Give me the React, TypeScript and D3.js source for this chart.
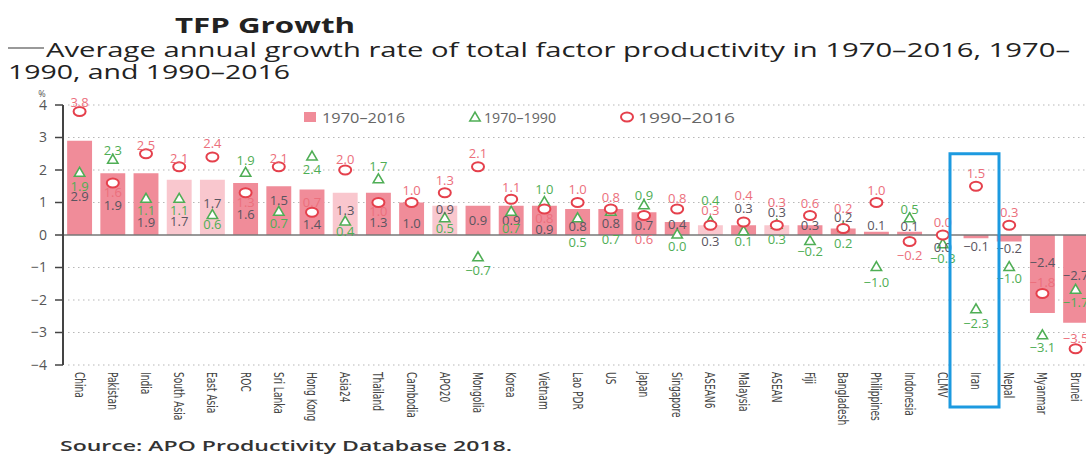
import * as d3 from "d3";

const CATEGORIES = [
  "China", "Pakistan", "India", "South Asia", "East Asia", "ROC", "Sri Lanka", "Hong Kong",
  "Asia24", "Thailand", "Cambodia", "APO20", "Mongolia", "Korea", "Vietnam", "Lao PDR",
  "US", "Japan", "Singapore", "ASEAN6", "Malaysia", "ASEAN", "Fiji", "Bangladesh",
  "Philippines", "Indonesia", "CLMV", "Iran", "Nepal", "Myanmar", "Brunei",
];

const TFP_1970_2016 = [
  2.9, 1.9, 1.9, 1.7, 1.7, 1.6, 1.5, 1.4, 1.3, 1.3, 1.0, 0.9, 0.9, 0.9, 0.9, 0.8,
  0.8, 0.7, 0.4, 0.3, 0.3, 0.3, 0.3, 0.2, 0.1, 0.1, 0.0, -0.1, -0.2, -2.4, -2.7,
];

const TFP_1970_1990: (number | null)[] = [
  1.9, 2.3, 1.1, 1.1, 0.6, 1.9, 0.7, 2.4, 0.4, 1.7, null, 0.5, -0.7, 0.7, 1.0, 0.5,
  0.7, 0.9, 0.0, 0.4, 0.1, 0.3, -0.2, 0.2, -1.0, 0.5, -0.3, -2.3, -1.0, -3.1, -1.7,
];

const TFP_1990_2016 = [
  3.8, 1.6, 2.5, 2.1, 2.4, 1.3, 2.1, 0.7, 2.0, 1.0, 1.0, 1.3, 2.1, 1.1, 0.8, 1.0,
  0.8, 0.6, 0.8, 0.3, 0.4, 0.3, 0.6, 0.2, 1.0, -0.2, 0.0, 1.5, 0.3, -1.8, -3.5,
];

// regional aggregates drawn with the lighter bar colour
const AGGREGATES = ["South Asia", "East Asia", "Asia24", "APO20", "ASEAN6", "ASEAN", "CLMV"];
const HIGHLIGHT = "Iran";

const Y_TICKS = [4, 3, 2, 1, 0, -1, -2, -3, -4];

// where each value label sits, in % units (hand placed in the original to avoid overlaps)
const LABEL_AT_BAR = [
  1.2, 0.9, 0.4, 0.43, 0.98, 0.62, 1.07, 0.34, 0.77, 0.4, 0.37, 0.8, 0.46, 0.45, 0.18, 0.25,
  0.35, 0.3, 0.34, -0.2, 0.83, 0.68, 0.3, 0.55, 0.3, 0.25, -0.37, -0.34, -0.4, -0.83, -1.23,
];
const LABEL_AT_TRI = [
  1.5, 2.6, 0.77, 0.77, 0.34, 2.3, 0.37, 2.03, 0.12, 2.1, 0, 0.2, -1.1, 0.2, 1.41, -0.22,
  -0.15, 1.23, -0.36, 1.07, -0.2, -0.15, -0.52, -0.25, -1.45, 0.8, -0.71, -2.71, -1.33, -3.47, -2.08,
];
const LABEL_AT_CIRCLE = [
  4.09, 1.3, 2.77, 2.37, 2.83, 1.0, 2.37, 1.0, 2.33, 0.74, 1.38, 1.68, 2.5, 1.45, 0.5, 1.41,
  1.17, -0.15, 1.13, 0.77, 1.23, 1.0, 0.98, 0.83, 1.38, -0.62, 0.4, 1.9, 0.7, -1.45, -3.17,
];

const WIDTH = 1086;
const HEIGHT = 459;
const AXIS_X = 63;
const BAR_DARK = "#f08c99";
const BAR_LIGHT = "#f9c7ce";
const RED = "#e5404c";
const GREEN = "#4fae55";
const LABEL_FONT = "'Open Sans', 'DejaVu Sans', sans-serif";
const NARROW_FONT = "'Liberation Sans Narrow', 'DejaVu Sans Condensed', 'Roboto', sans-serif";

function fmt(v: number) {
  return v < 0 ? `\u2212${Math.abs(v).toFixed(1)}` : v.toFixed(1);
}

export default function App() {
  const x = d3.scaleBand<string>().domain(CATEGORIES).range([AXIS_X, AXIS_X + 33.2 * CATEGORIES.length]).padding(0);
  const y = d3.scaleLinear().domain([-4, 4]).range([365, 105]);
  const step = x.bandwidth();
  const barW = step * 0.75;
  const cx = (c: string) => (x(c) ?? 0) + step / 2;
  const triangle = d3.symbol().type(d3.symbolTriangle).size(46)() ?? "";

  const irX = cx(HIGHLIGHT);

  return (
    <svg width={WIDTH} height={HEIGHT} style={{ position: "absolute", left: 0, top: 0, background: "#fff" }}>
      {/* titles */}
      <text x={175} y={33} fontFamily={LABEL_FONT} fontWeight={700} fontSize={22} fill="#222" textLength={180} lengthAdjust="spacingAndGlyphs">
        TFP Growth
      </text>
      <line x1={8} x2={44} y1={48} y2={48} stroke="#777" strokeWidth={1.3} />
      <text x={46} y={57} fontFamily={LABEL_FONT} fontSize={20} fill="#222" textLength={1024} lengthAdjust="spacingAndGlyphs">
        Average annual growth rate of total factor productivity in 1970–2016, 1970–
      </text>
      <text x={8} y={79} fontFamily={LABEL_FONT} fontSize={20} fill="#222" textLength={282} lengthAdjust="spacingAndGlyphs">
        1990, and 1990–2016
      </text>

      {/* grid */}
      {Y_TICKS.filter((t) => t !== 0).map((t) => (
        <line key={t} x1={AXIS_X + 5} x2={WIDTH} y1={y(t)} y2={y(t)} stroke="#b8b8b8" strokeWidth={1.2} strokeDasharray="1.5 3.5" />
      ))}

      {/* legend */}
      <g fontFamily={LABEL_FONT} fontSize={14.5} fill="#666">
        <rect x={304} y={112} width={12} height={10} fill={BAR_DARK} />
        <text x={322} y={122.5} textLength={83} lengthAdjust="spacingAndGlyphs">1970–2016</text>
        <path d={triangle} transform={`translate(475 118)`} fill="#fff" stroke={GREEN} strokeWidth={1.6} />
        <text x={484} y={122.5} textLength={72} lengthAdjust="spacingAndGlyphs">1970–1990</text>
        <ellipse cx={627} cy={117} rx={6} ry={4.5} fill="#fff" stroke={RED} strokeWidth={2} />
        <text x={638} y={122.5} textLength={97} lengthAdjust="spacingAndGlyphs">1990–2016</text>
      </g>

      {/* bars */}
      {CATEGORIES.map((c, i) => {
        const v = TFP_1970_2016[i];
        return (
          <rect
            key={c}
            x={cx(c) - barW / 2}
            y={Math.min(y(v), y(0))}
            width={barW}
            height={Math.abs(y(v) - y(0))}
            fill={AGGREGATES.includes(c) ? BAR_LIGHT : BAR_DARK}
          />
        );
      })}

      {/* zero line and y axis */}
      <line x1={AXIS_X} x2={WIDTH} y1={y(0)} y2={y(0)} stroke="#777" strokeWidth={1.5} />
      <line x1={AXIS_X} x2={AXIS_X} y1={y(4)} y2={y(-4)} stroke="#444" strokeWidth={2} />
      {Y_TICKS.map((t) => (
        <g key={t}>
          <line x1={AXIS_X - 8} x2={AXIS_X} y1={y(t)} y2={y(t)} stroke="#444" strokeWidth={1.5} />
          <text x={47} y={y(t)} dy="0.35em" textAnchor="end" fontFamily={LABEL_FONT} fontSize={14} fill="#555">
            {t < 0 ? `\u2212${Math.abs(t)}` : t}
          </text>
        </g>
      ))}
      <text x={42} y={97} textAnchor="middle" fontFamily={LABEL_FONT} fontSize={9} fill="#555">%</text>

      {/* 1970-1990 triangles */}
      {CATEGORIES.map((c, i) => {
        const v = TFP_1970_1990[i];
        if (v === null) return null;
        return <path key={c} d={triangle} transform={`translate(${cx(c)} ${y(v)})`} fill="#fff" stroke={GREEN} strokeWidth={1.6} />;
      })}

      {/* 1990-2016 circles */}
      {CATEGORIES.map((c, i) => (
        <ellipse key={c} cx={cx(c)} cy={y(TFP_1990_2016[i])} rx={6} ry={4.5} fill="#fff" stroke={RED} strokeWidth={2} />
      ))}

      {/* value labels */}
      <g fontFamily={LABEL_FONT} fontSize={13} textAnchor="middle">
        {CATEGORIES.map((c, i) => (
          <text key={`b${c}`} x={cx(c)} y={y(LABEL_AT_BAR[i])} dy="0.35em" fill="#5a5560">
            {fmt(TFP_1970_2016[i])}
          </text>
        ))}
        {CATEGORIES.map((c, i) => {
          const v = TFP_1970_1990[i];
          if (v === null) return null;
          return (
            <text key={`t${c}`} x={cx(c)} y={y(LABEL_AT_TRI[i])} dy="0.35em" fill={GREEN}>
              {fmt(v)}
            </text>
          );
        })}
        {CATEGORIES.map((c, i) => (
          <text key={`c${c}`} x={cx(c)} y={y(LABEL_AT_CIRCLE[i])} dy="0.35em" fill="#ec6f7c">
            {fmt(TFP_1990_2016[i])}
          </text>
        ))}
      </g>

      {/* category labels, rotated and condensed */}
      {CATEGORIES.map((c) => (
        <text
          key={c}
          transform={`translate(${cx(c)} 372) rotate(90) scale(0.72 1)`}
          dy="0.35em"
          fontFamily={NARROW_FONT}
          fontSize={14}
          fill="#444"
        >
          {c}
        </text>
      ))}

      {/* highlight box */}
      <rect x={irX - 26} y={y(2.5)} width={49} height={407 - y(2.5)} fill="none" stroke="#1c9ae0" strokeWidth={3} />

      <text x={60} y={451} fontFamily={LABEL_FONT} fontWeight={600} fontSize={15} fill="#333" textLength={452} lengthAdjust="spacingAndGlyphs">
        Source: APO Productivity Database 2018.
      </text>
    </svg>
  );
}
